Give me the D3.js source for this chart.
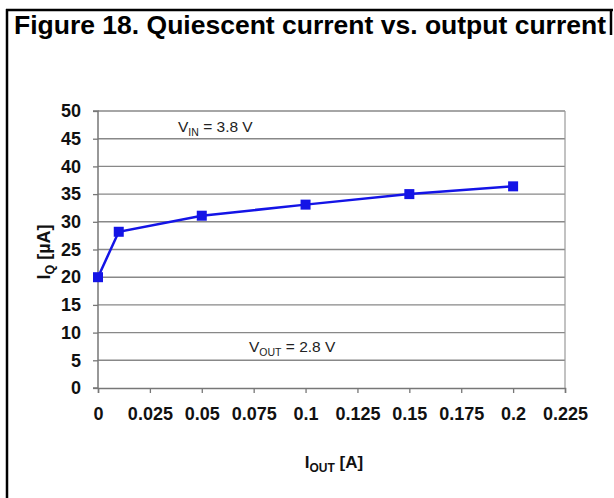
<!DOCTYPE html>
<html><head><meta charset="utf-8">
<script src="https://cdn.jsdelivr.net/npm/d3@7"></script>
<style>body{margin:0;background:#fff}svg{display:block}</style>
</head><body>
<script>
const iout = [0, 0.01, 0.05, 0.1, 0.15, 0.2];
const iq = [20, 28.2, 31.1, 33.1, 35.0, 36.4];
const xTicks = [0, 0.025, 0.05, 0.075, 0.1, 0.125, 0.15, 0.175, 0.2, 0.225];
const yTicks = [0, 5, 10, 15, 20, 25, 30, 35, 40, 45, 50];

const W = 614, H = 498;
const font = "Liberation Sans, Arial, sans-serif";
const svg = d3.select("body").append("svg").attr("width", W).attr("height", H);

// frame
svg.append("line").attr("x1", 7).attr("x2", 7).attr("y1", 9).attr("y2", H).attr("stroke", "#000").attr("stroke-width", 2.5);
svg.append("line").attr("x1", 6).attr("x2", 613).attr("y1", 10).attr("y2", 10).attr("stroke", "#000").attr("stroke-width", 2.5);
svg.append("line").attr("x1", 611).attr("x2", 611).attr("y1", 9).attr("y2", 35).attr("stroke", "#000").attr("stroke-width", 2.5);

svg.append("text").attr("x", 14).attr("y", 34).attr("font-family", font)
  .attr("font-weight", "bold").attr("font-size", 26.5).attr("fill", "#000")
  .text("Figure 18. Quiescent current vs. output current");

const x = d3.scaleLinear().domain([0, 0.225]).range([98, 565]);
const y = d3.scaleLinear().domain([0, 50]).range([388, 111]);

// gridlines
svg.append("g").selectAll("line").data(yTicks.filter(d => d > 0)).join("line")
  .attr("x1", x(0)).attr("x2", x(0.225)).attr("y1", d => y(d)).attr("y2", d => y(d))
  .attr("stroke", "#888").attr("stroke-width", 1.4);
// right border of plot
svg.append("line").attr("x1", x(0.225)).attr("x2", x(0.225)).attr("y1", y(50)).attr("y2", y(0))
  .attr("stroke", "#999").attr("stroke-width", 1.2);

const yAxis = d3.axisLeft(y).tickValues(yTicks).tickSize(5).tickPadding(12).tickFormat(d3.format("d"));
const gy = svg.append("g").attr("transform", `translate(${x(0)},0)`).call(yAxis);
const xAxis = d3.axisBottom(x).tickValues(xTicks).tickSize(5).tickPadding(14).tickFormat(d => String(d));
const gx = svg.append("g").attr("transform", `translate(0,${y(0)})`).call(xAxis);
[gx, gy].forEach(g => {
  g.select(".domain").attr("stroke", "#777").attr("stroke-width", 1.5);
  g.selectAll(".tick line").attr("stroke", "#777").attr("stroke-width", 1.3);
  g.selectAll("text").attr("font-family", font).attr("font-weight", "bold").attr("font-size", 18).attr("fill", "#111");
});
gy.select(".domain").attr("d", `M-5,${y(50)}H0V${y(0)}H-5`);

// line
const pts = iout.map((d, i) => [d, iq[i]]);
svg.append("path").datum(pts).attr("fill", "none").attr("stroke", "#1414e6").attr("stroke-width", 2.5)
  .attr("d", d3.line().x(d => x(d[0])).y(d => y(d[1])));
svg.append("g").selectAll("rect").data(pts).join("rect")
  .attr("x", d => x(d[0]) - 5).attr("y", d => y(d[1]) - 5).attr("width", 10).attr("height", 10)
  .attr("fill", "#1414e6");

// annotations
const t1 = svg.append("text").attr("x", 178).attr("y", 132).attr("font-family", font).attr("font-size", 15.5).attr("fill", "#222");
t1.append("tspan").text("V");
t1.append("tspan").attr("font-size", 10.5).attr("dy", 4).text("IN");
t1.append("tspan").attr("dy", -4).text(" = 3.8 V");
const t2 = svg.append("text").attr("x", 249).attr("y", 352).attr("font-family", font).attr("font-size", 15.5).attr("fill", "#222");
t2.append("tspan").text("V");
t2.append("tspan").attr("font-size", 10.5).attr("dy", 4).text("OUT");
t2.append("tspan").attr("dy", -4).text(" = 2.8 V");

// axis titles
const xt = svg.append("text").attr("x", 334).attr("y", 468).attr("text-anchor", "middle")
  .attr("font-family", font).attr("font-weight", "bold").attr("font-size", 17).attr("fill", "#111");
xt.append("tspan").text("I");
xt.append("tspan").attr("font-size", 12).attr("dy", 4).text("OUT");
xt.append("tspan").attr("dy", -4).text(" [A]");
const yt = svg.append("text").attr("transform", "translate(50,252) rotate(-90)").attr("text-anchor", "middle")
  .attr("font-family", font).attr("font-weight", "bold").attr("font-size", 18).attr("fill", "#111");
yt.append("tspan").text("I");
yt.append("tspan").attr("font-size", 12.5).attr("dy", 4).text("Q");
yt.append("tspan").attr("dy", -4).text(" [µA]");
</script>
</body></html>
